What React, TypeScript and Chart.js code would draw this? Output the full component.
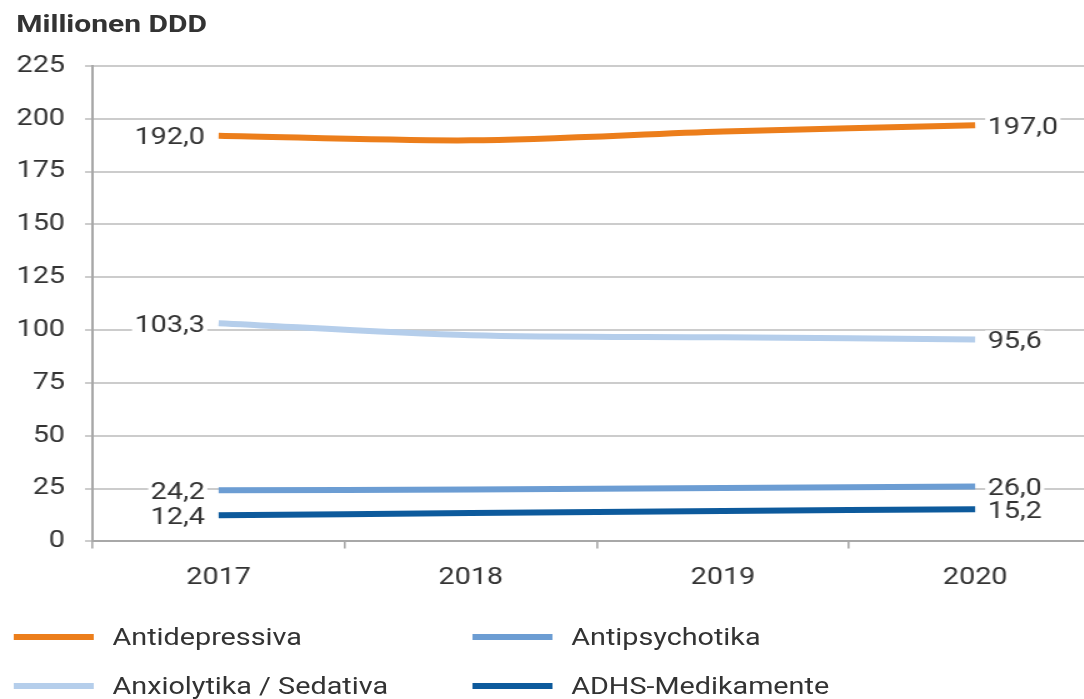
import React, { useEffect, useRef } from "react";
import { Chart, registerables } from "chart.js";
Chart.register(...registerables);

const years = ["2017", "2018", "2019", "2020"];
const antidepressiva = [192.0, 189.8, 194.0, 197.0];
const anxiolytika = [103.3, 97.6, 96.6, 95.6];
const antipsychotika = [24.2, 24.6, 25.3, 26.0];
const adhs = [12.4, 13.4, 14.4, 15.2];
const startLabels = ["192,0", "103,3", "24,2", "12,4"];
const endLabels = ["197,0", "95,6", "26,0", "15,2"];
const seriesNames = ["Antidepressiva", "Anxiolytika / Sedativa", "Antipsychotika", "ADHS-Medikamente"];
const colors = ["#EC7E1B", "#B5CEEB", "#6C9DD3", "#0D5A9C"];
const yTicks = [0, 25, 50, 75, 100, 125, 150, 175, 200, 225];

const FONT = "Roboto, 'Noto Sans', sans-serif";
const TEXT = "#333333";
const FS = 23;
const STRETCH = 1.25;

const endLabelPlugin = {
  id: "endLabels",
  afterDatasetsDraw(chart: any) {
    const ctx = chart.ctx;
    ctx.save();
    ctx.font = `${FS}px ${FONT}`;
    ctx.textBaseline = "middle";
    chart.data.datasets.forEach((ds: any, i: number) => {
      const meta = chart.getDatasetMeta(i);
      const first = meta.data[0];
      const last = meta.data[meta.data.length - 1];
      const drawLabel = (txt: string, x: number, y: number, align: "left" | "right") => {
        const w = ctx.measureText(txt).width;
        const left = align === "right" ? x - w : x;
        ctx.fillStyle = "#ffffff";
        ctx.fillRect(left - 2, y - 11, w + 4, 22);
        ctx.fillStyle = TEXT;
        ctx.textAlign = align;
        ctx.fillText(txt, x, y + 1);
      };
      drawLabel(startLabels[i], first.x - 11, first.y + 2, "right");
      drawLabel(endLabels[i], last.x + 10, last.y + 2, "left");
    });
    ctx.restore();
  },
};

export default function App() {
  const ref = useRef<HTMLCanvasElement>(null);
  useEffect(() => {
    document.body.style.margin = "0";
    document.body.style.overflow = "hidden";
    const datasets = [antidepressiva, anxiolytika, antipsychotika, adhs].map((d, i) => ({
      label: seriesNames[i],
      data: d,
      borderColor: colors[i],
      backgroundColor: colors[i],
      borderWidth: 6,
      pointRadius: 0,
      tension: 0.3,
      borderCapStyle: "butt" as const,
    }));
    const chart = new Chart(ref.current!, {
      type: "line",
      data: { labels: years, datasets },
      plugins: [endLabelPlugin],
      options: {
        animation: false,
        responsive: false,
        layout: { padding: { top: 66, right: 1, left: 0, bottom: 0 } },
        plugins: { legend: { display: false }, tooltip: { enabled: false } },
        scales: {
          x: {
            offset: true,
            grid: { drawOnChartArea: false, offset: true, tickLength: 7, color: "#a8a8a8", lineWidth: 1.6 },
            border: { color: "#a8a8a8", width: 2 },
            ticks: { color: TEXT, font: { family: FONT, size: FS }, padding: 16, maxRotation: 0 },
          },
          y: {
            min: 0,
            max: 225,
            afterBuildTicks: (scale: any) => {
              scale.ticks = yTicks.map((v) => ({ value: v }));
            },
            afterFit: (scale: any) => {
              scale.width = 74;
            },
            grid: { color: "#cccccc", lineWidth: 2, tickLength: 6 },
            border: { color: "#a8a8a8", width: 2 },
            ticks: { color: TEXT, font: { family: FONT, size: FS }, padding: 16 },
          },
        },
      },
    });
    let alive = true;
    const fonts: any = (document as any).fonts;
    if (fonts && fonts.load) {
      Promise.all([fonts.load(`${FS}px Roboto`), fonts.load(`bold 24px Roboto`)]).then(
        () => {
          if (alive) chart.update();
        },
        () => {}
      );
    }
    return () => {
      alive = false;
      chart.destroy();
    };
  }, []);

  const legendItem = (i: number, x: number, y: number) => (
    <div key={i} style={{ position: "absolute", left: x, top: y - 15, height: 30, display: "flex", alignItems: "center" }}>
      <div style={{ width: 64, height: 6, background: colors[i], marginRight: 15 }} />
      <span style={{ font: `${FS}px ${FONT}`, color: TEXT, whiteSpace: "nowrap" }}>{seriesNames[i]}</span>
    </div>
  );

  return (
    <div style={{ position: "absolute", left: 0, top: 0, width: 1084, height: 699, overflow: "hidden", background: "#fff" }}>
      <div
        style={{
          position: "absolute",
          left: 0,
          top: 0,
          width: 884,
          height: 699,
          transform: `scaleX(${STRETCH})`,
          transformOrigin: "0 0",
        }}
      >
        <div style={{ position: "absolute", left: 13, top: 10, font: `bold 24px ${FONT}`, color: TEXT }}>Millionen DDD</div>
        <canvas ref={ref} width={884} height={608} style={{ position: "absolute", left: 0, top: 0 }} />
        {legendItem(0, 11, 637)}
        {legendItem(1, 11, 686)}
        {legendItem(2, 378, 637)}
        {legendItem(3, 378, 686)}
      </div>
    </div>
  );
}
